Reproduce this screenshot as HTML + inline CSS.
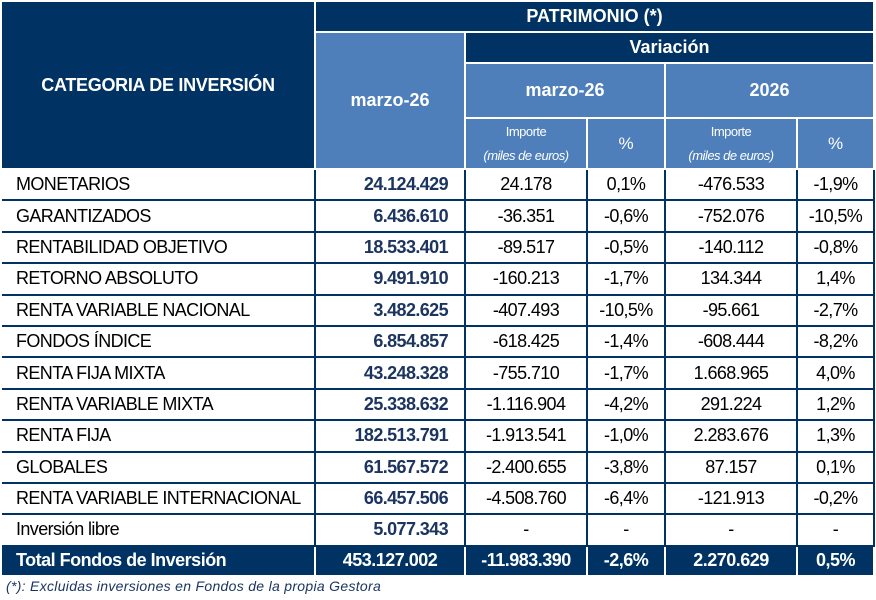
<!DOCTYPE html>
<html><head><meta charset="utf-8"><style>
body{margin:0;background:#fff;width:876px;height:600px;overflow:hidden;font-family:"Liberation Sans",Arial,sans-serif;}
table{position:absolute;left:2px;top:0;border-collapse:collapse;table-layout:fixed;}
td{padding:0;border:2px solid #fff;text-align:center;overflow:hidden;white-space:nowrap;}
.d{background:#003264;color:#fff;font-weight:bold;}
.l{background:#4e7fbb;color:#fff;}
.b td{border:2px solid #003264;height:29.4px;font-size:18px;letter-spacing:-0.6px;color:#000;}
.b td.c{text-align:left;padding-left:14px;border-left:none;}
.b td.m{text-align:right;padding-right:16px;font-weight:bold;color:#1c3560;}
.t td{background:#003264;color:#fff;font-weight:bold;font-size:18px;border:2px solid #fff;height:28px;letter-spacing:-0.5px;}
.fn{position:absolute;left:6px;top:578px;font-size:14px;font-style:italic;color:#1c3560;letter-spacing:0.3px;}
</style></head><body>
<table>
<colgroup><col style="width:313px"><col style="width:150px"><col style="width:122px"><col style="width:78px"><col style="width:132px"><col style="width:77px"></colgroup>
<tr style="height:31px"><td class="d" rowspan="4" style="font-size:18px;border-left:none;letter-spacing:-0.3px">CATEGORIA DE INVERSIÓN</td><td class="d" colspan="5" style="font-size:18px">PATRIMONIO (*)</td></tr>
<tr style="height:31px"><td class="l" rowspan="3" style="font-weight:bold;font-size:18px;padding-top:0">marzo-26</td><td class="d" colspan="4" style="font-size:18px">Variación</td></tr>
<tr style="height:55px"><td class="l" colspan="2" style="font-weight:bold;font-size:18px">marzo-26</td><td class="l" colspan="2" style="font-weight:bold;font-size:18px">2026</td></tr>
<tr style="height:51px"><td class="l" style="font-size:13px;line-height:24px;letter-spacing:-0.5px">Importe<br><i>(miles de euros)</i></td><td class="l" style="font-size:17px">%</td><td class="l" style="font-size:13px;line-height:24px;letter-spacing:-0.5px">Importe<br><i>(miles de euros)</i></td><td class="l" style="font-size:17px">%</td></tr>
<tbody class="b">
<tr><td class="c">MONETARIOS</td><td class="m">24.124.429</td><td>24.178</td><td>0,1%</td><td>-476.533</td><td>-1,9%</td></tr>
<tr><td class="c">GARANTIZADOS</td><td class="m">6.436.610</td><td>-36.351</td><td>-0,6%</td><td>-752.076</td><td>-10,5%</td></tr>
<tr><td class="c">RENTABILIDAD OBJETIVO</td><td class="m">18.533.401</td><td>-89.517</td><td>-0,5%</td><td>-140.112</td><td>-0,8%</td></tr>
<tr><td class="c">RETORNO ABSOLUTO</td><td class="m">9.491.910</td><td>-160.213</td><td>-1,7%</td><td>134.344</td><td>1,4%</td></tr>
<tr><td class="c">RENTA VARIABLE NACIONAL</td><td class="m">3.482.625</td><td>-407.493</td><td>-10,5%</td><td>-95.661</td><td>-2,7%</td></tr>
<tr><td class="c">FONDOS ÍNDICE</td><td class="m">6.854.857</td><td>-618.425</td><td>-1,4%</td><td>-608.444</td><td>-8,2%</td></tr>
<tr><td class="c">RENTA FIJA MIXTA</td><td class="m">43.248.328</td><td>-755.710</td><td>-1,7%</td><td>1.668.965</td><td>4,0%</td></tr>
<tr><td class="c">RENTA VARIABLE MIXTA</td><td class="m">25.338.632</td><td>-1.116.904</td><td>-4,2%</td><td>291.224</td><td>1,2%</td></tr>
<tr><td class="c">RENTA FIJA</td><td class="m">182.513.791</td><td>-1.913.541</td><td>-1,0%</td><td>2.283.676</td><td>1,3%</td></tr>
<tr><td class="c">GLOBALES</td><td class="m">61.567.572</td><td>-2.400.655</td><td>-3,8%</td><td>87.157</td><td>0,1%</td></tr>
<tr><td class="c">RENTA VARIABLE INTERNACIONAL</td><td class="m">66.457.506</td><td>-4.508.760</td><td>-6,4%</td><td>-121.913</td><td>-0,2%</td></tr>
<tr><td class="c">Inversión libre</td><td class="m">5.077.343</td><td>-</td><td>-</td><td>-</td><td>-</td></tr>
</tbody>
<tbody class="t">
<tr><td style="text-align:left;padding-left:14px;border-left:none">Total Fondos de Inversión</td><td>453.127.002</td><td>-11.983.390</td><td>-2,6%</td><td>2.270.629</td><td>0,5%</td></tr>
</tbody>
</table>
<div class="fn">(*): Excluidas inversiones en Fondos de la propia Gestora</div>
</body></html>
